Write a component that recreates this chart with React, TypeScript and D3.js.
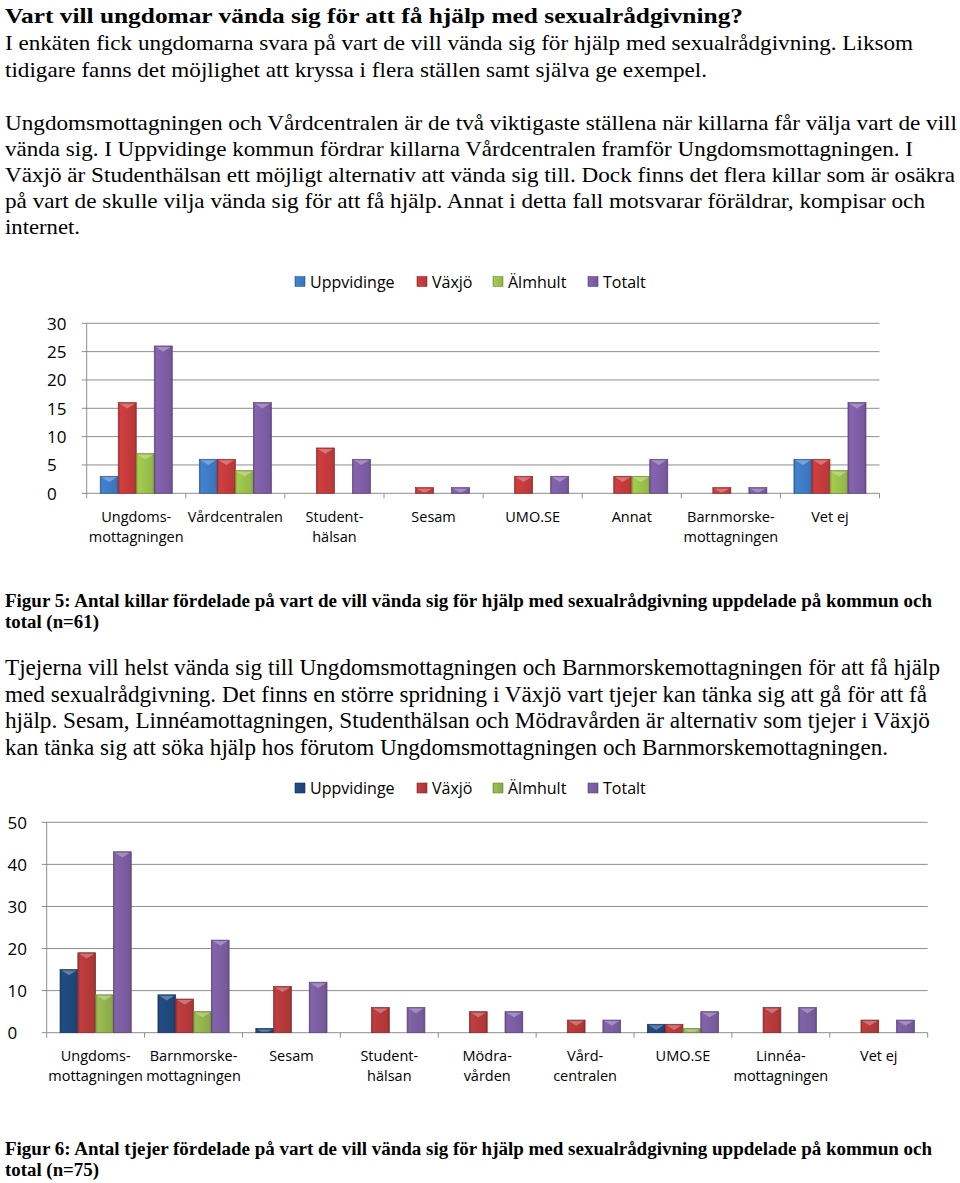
import React from "react";
import * as d3 from "d3";

// ---------- DATA ----------
const seriesNames = ["Uppvidinge", "Växjö", "Älmhult", "Totalt"];

const boysCategories = [
  ["Ungdoms-", "mottagningen"],
  ["Vårdcentralen"],
  ["Student-", "hälsan"],
  ["Sesam"],
  ["UMO.SE"],
  ["Annat"],
  ["Barnmorske-", "mottagningen"],
  ["Vet ej"],
];
const boysUppvidinge = [3, 6, 0, 0, 0, 0, 0, 6];
const boysVaxjo = [16, 6, 8, 1, 3, 3, 1, 6];
const boysAlmhult = [7, 4, 0, 0, 0, 3, 0, 4];
const boysTotalt = [26, 16, 6, 1, 3, 6, 1, 16];
const boysTicks = [0, 5, 10, 15, 20, 25, 30];

const girlsCategories = [
  ["Ungdoms-", "mottagningen"],
  ["Barnmorske-", "mottagningen"],
  ["Sesam"],
  ["Student-", "hälsan"],
  ["Mödra-", "vården"],
  ["Vård-", "centralen"],
  ["UMO.SE"],
  ["Linnéa-", "mottagningen"],
  ["Vet ej"],
];
const girlsUppvidinge = [15, 9, 1, 0, 0, 0, 2, 0, 0];
const girlsVaxjo = [19, 8, 11, 6, 5, 3, 2, 6, 3];
const girlsAlmhult = [9, 5, 0, 0, 0, 0, 1, 0, 0];
const girlsTotalt = [43, 22, 12, 6, 5, 3, 5, 6, 3];
const girlsTicks = [0, 10, 20, 30, 40, 50];

const boysColors = ["#3E7CC6", "#C63B3C", "#9BC24B", "#7F5EA7"];
const girlsColors = ["#1F487D", "#B63A3B", "#92B54E", "#7C5EA2"];

// ---------- TEXT ----------
const introLines = [
  "I enkäten fick ungdomarna svara på vart de vill vända sig för hjälp med sexualrådgivning. Liksom",
  "tidigare fanns det möjlighet att kryssa i flera ställen samt själva ge exempel.",
];
const boysParagraph = [
  "Ungdomsmottagningen och Vårdcentralen är de två viktigaste ställena när killarna får välja vart de vill",
  "vända sig. I Uppvidinge kommun fördrar killarna Vårdcentralen framför Ungdomsmottagningen. I",
  "Växjö är Studenthälsan ett möjligt alternativ att vända sig till. Dock finns det flera killar som är osäkra",
  "på vart de skulle vilja vända sig för att få hjälp. Annat i detta fall motsvarar föräldrar, kompisar och",
  "internet.",
];
const girlsParagraph = [
  "Tjejerna vill helst vända sig till Ungdomsmottagningen och Barnmorskemottagningen för att få hjälp",
  "med sexualrådgivning. Det finns en större spridning i Växjö vart tjejer kan tänka sig att gå för att få",
  "hjälp. Sesam, Linnéamottagningen, Studenthälsan och Mödravården är alternativ som tjejer i Växjö",
  "kan tänka sig att söka hjälp hos förutom Ungdomsmottagningen och Barnmorskemottagningen.",
];
const caption5 = [
  "Figur 5: Antal killar fördelade på vart de vill vända sig för hjälp med sexualrådgivning uppdelade på kommun och",
  "total (n=61)",
];
const caption6 = [
  "Figur 6: Antal tjejer fördelade på vart de vill vända sig för hjälp med sexualrådgivning uppdelade på kommun och",
  "total (n=75)",
];

const SERIF = "'Liberation Serif', 'Times New Roman', Times, serif";
const SANS = "'Open Sans', 'Noto Sans', sans-serif";

function Line({ text, x, y, w, size, bold }: any) {
  return (
    <text
      x={x}
      y={y}
      fontFamily={SERIF}
      fontSize={size}
      fontWeight={bold ? "bold" : "normal"}
      fill="#000"
      textLength={w}
      lengthAdjust="spacingAndGlyphs"
    >
      {text}
    </text>
  );
}

function Bar({ x, y, w, h, gradId, color }: any) {
  if (h <= 0) return null;
  const c = d3.color(color)!;
  const dark = c.darker(0.9).formatHex();
  const light = d3.interpolateRgb(color, "#ffffff")(0.35);
  const triFull = w * 0.32;
  let pts: string;
  const xl = x + 1.5;
  const xr = x + w - 1.5;
  const cx = x + w / 2;
  if (h >= triFull + 1) {
    pts = `${xl},${y + 1} ${xr},${y + 1} ${cx},${y + triFull}`;
  } else {
    const hh = Math.max(h - 1, 0.5);
    const f = hh / triFull;
    const half = (w / 2 - 1.5) * (1 - f);
    pts = `${xl},${y + 1} ${xr},${y + 1} ${cx + half},${y + hh} ${cx - half},${y + hh}`;
  }
  return (
    <g>
      <rect x={x} y={y} width={w} height={h} fill={`url(#${gradId})`} stroke={dark} strokeWidth={0.7} />
      <polygon points={pts} fill={light} opacity={0.85} />
    </g>
  );
}

function BarChart({
  id,
  categories,
  values,
  colors,
  ticks,
  left,
  right,
  top,
  bottom,
  labelX,
  legendY,
  legendXs,
  catLabelY,
}: any) {
  const cats = categories.map((c: string[]) => c.join(" "));
  const x0 = d3.scaleBand<string>().domain(cats).range([left, right]).padding(0);
  const bw = x0.bandwidth();
  const barW = bw / 5.5;
  const pad = barW * 0.75;
  const x1 = d3
    .scaleBand<string>()
    .domain(seriesNames)
    .range([pad, bw - pad])
    .padding(0);
  const y = d3
    .scaleLinear()
    .domain([0, ticks[ticks.length - 1]])
    .range([bottom, top]);
  const gridColor = "#8E8E8E";
  return (
    <g>
      <defs>
        {colors.map((col: string, i: number) => {
          const c = d3.color(col)!;
          return (
            <linearGradient key={i} id={`${id}-g${i}`} x1="0" x2="1" y1="0" y2="0">
              <stop offset="0%" stopColor={c.darker(0.5).formatHex()} />
              <stop offset="12%" stopColor={c.brighter(0.15).formatHex()} />
              <stop offset="50%" stopColor={col} />
              <stop offset="88%" stopColor={c.darker(0.15).formatHex()} />
              <stop offset="100%" stopColor={c.darker(0.6).formatHex()} />
            </linearGradient>
          );
        })}
      </defs>
      {ticks.map((t: number) => (
        <g key={t}>
          <line x1={left - 5} x2={right} y1={y(t)} y2={y(t)} stroke={gridColor} strokeWidth={1} />
          <text
            x={labelX}
            y={y(t)}
            dominantBaseline="central"
            fontFamily={SANS}
            fontSize={17}
            fill="#000"
          >
            {t}
          </text>
        </g>
      ))}
      <line x1={left} x2={left} y1={top} y2={bottom} stroke={gridColor} strokeWidth={1} />
      {d3.range(cats.length + 1).map((i) => {
        const xx = left + i * bw;
        return <line key={i} x1={xx} x2={xx} y1={bottom} y2={bottom + 5} stroke={gridColor} strokeWidth={1} />;
      })}
      {cats.map((c: string, ci: number) =>
        seriesNames.map((s, si) => {
          const v = values[si][ci];
          const bx = (x0(c) as number) + (x1(s) as number);
          return (
            <Bar
              key={`${ci}-${si}`}
              x={bx}
              y={y(v)}
              w={x1.bandwidth()}
              h={y(0) - y(v)}
              gradId={`${id}-g${si}`}
              color={colors[si]}
            />
          );
        })
      )}
      {categories.map((lines: string[], ci: number) => (
        <text
          key={ci}
          x={(x0(cats[ci]) as number) + bw / 2}
          textAnchor="middle"
          fontFamily={SANS}
          fontSize={14.5}
          fill="#000"
        >
          {lines.map((ln, li) => (
            <tspan key={li} x={(x0(cats[ci]) as number) + bw / 2} y={catLabelY + li * 20} dominantBaseline="central">
              {ln}
            </tspan>
          ))}
        </text>
      ))}
      {seriesNames.map((s, si) => (
        <g key={s}>
          <rect
            x={legendXs[si]}
            y={legendY - 5}
            width={10}
            height={10}
            fill={`url(#${id}-g${si})`}
            stroke={d3.color(colors[si])!.darker(0.8).formatHex()}
            strokeWidth={0.6}
          />
          <text
            x={legendXs[si] + 15}
            y={legendY}
            dominantBaseline="central"
            fontFamily={SANS}
            fontSize={16}
            fill="#000"
          >
            {s}
          </text>
        </g>
      ))}
    </g>
  );
}

export default function App() {
  const boysValues = [boysUppvidinge, boysVaxjo, boysAlmhult, boysTotalt];
  const girlsValues = [girlsUppvidinge, girlsVaxjo, girlsAlmhult, girlsTotalt];
  const introW = [908, 702];
  const introY = [50, 77];
  const boysW = [952, 908, 950, 920, 75];
  const boysY = [129.5, 155.5, 181.7, 207.5, 233.5];
  const girlsW = [935, 922, 925, 883];
  const girlsY = [675, 701.5, 728, 754.5];
  return (
    <div style={{ position: "absolute", left: 0, top: 0 }}>
      <svg width={960} height={1183} style={{ display: "block", background: "#fff" }}>
        <Line
          text="Vart vill ungdomar vända sig för att få hjälp med sexualrådgivning?"
          x={5}
          y={22.5}
          w={738}
          size={22}
          bold
        />
        {introLines.map((t, i) => (
          <Line key={i} text={t} x={5} y={introY[i]} w={introW[i]} size={21} />
        ))}
        {boysParagraph.map((t, i) => (
          <Line key={i} text={t} x={5} y={boysY[i]} w={boysW[i]} size={21} />
        ))}
        <BarChart
          id="boys"
          categories={boysCategories}
          values={boysValues}
          colors={boysColors}
          ticks={boysTicks}
          left={86.7}
          right={879.5}
          top={323.3}
          bottom={493.3}
          labelX={47}
          legendY={281.5}
          legendXs={[295, 417, 493, 588]}
          catLabelY={516}
        />
        {caption5.map((t, i) => (
          <Line key={i} text={t} x={5} y={607 + i * 21} w={i === 0 ? 927 : 94} size={18.5} bold />
        ))}
        {girlsParagraph.map((t, i) => (
          <Line key={i} text={t} x={5} y={girlsY[i]} w={girlsW[i]} size={22.5} />
        ))}
        <BarChart
          id="girls"
          categories={girlsCategories}
          values={girlsValues}
          colors={girlsColors}
          ticks={girlsTicks}
          left={46.7}
          right={927.7}
          top={822.3}
          bottom={1032.7}
          labelX={7.5}
          legendY={788}
          legendXs={[295, 417, 493, 588]}
          catLabelY={1055}
        />
        {caption6.map((t, i) => (
          <Line key={i} text={t} x={5} y={1155 + i * 21} w={i === 0 ? 927 : 94} size={18.5} bold />
        ))}
      </svg>
    </div>
  );
}
